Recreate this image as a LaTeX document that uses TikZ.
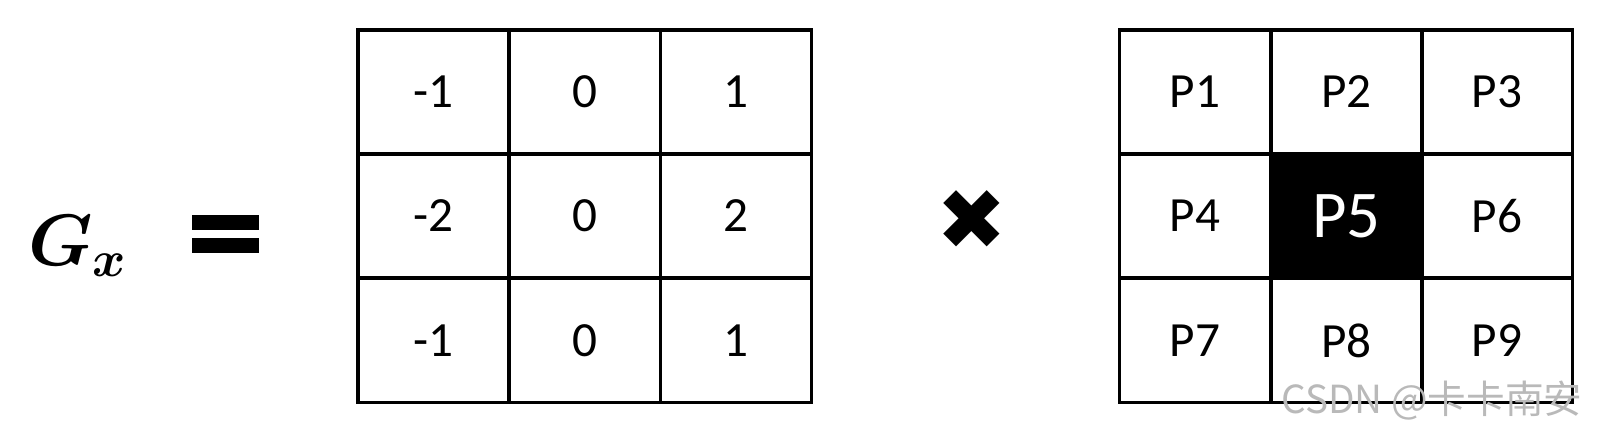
\documentclass[tikz,border=0pt]{standalone}
\usepackage{fontspec}
\usepackage{amsmath,bm}
\newfontfamily\carlito{Carlito}
\newfontfamily\dejavu{DejaVu Sans}
\newfontfamily\cjk{Noto Sans CJK SC}
\tikzset{
  celda/.style={draw, line width=0.9pt, minimum width=1.51cm, minimum height=1.24cm,
    inner sep=0pt, font=\carlito\fontsize{14}{16}\selectfont},
  pixel/.style={celda},
  centro/.style={pixel, fill=black, text=white, font=\carlito\fontsize{19}{21}\selectfont}
}
\begin{document}
\begin{tikzpicture}
    \useasboundingbox (0,0) rectangle (15.99,4.30);

    % Dibuja el operador G_x y el signo igual
    \node (gx) at (0.78,1.84) {\fontsize{22}{26}\selectfont$\bm{G}_{\bm{x}}$};
    \fill (1.92,2.15) rectangle (2.59,2.00);
    \fill (1.92,1.92) rectangle (2.59,1.77);

    % Dibuja el kernel de Sobel
    \node[celda] (k11) at (4.335,3.38) {-1};
    \node[celda] (k12) at (5.85,3.38) {0};
    \node[celda] (k13) at (7.36,3.38) {1};
    \node[celda] (k21) at (4.335,2.14) {-2};
    \node[celda] (k22) at (5.85,2.14) {0};
    \node[celda] (k23) at (7.36,2.14) {2};
    \node[celda] (k31) at (4.335,0.895) {-1};
    \node[celda] (k32) at (5.85,0.895) {0};
    \node[celda] (k33) at (7.36,0.895) {1};

    % Dibuja el signo por
    \node (por) at (9.72,2.10) {\dejavu\fontsize{24}{26}\selectfont ✖};

    % Dibuja la vecindad de pixeles
    \node[pixel] (p1) at (11.95,3.38) {P1};
    \node[pixel] (p2) at (13.465,3.38) {P2};
    \node[pixel] (p3) at (14.97,3.38) {P3};
    \node[pixel] (p4) at (11.95,2.14) {P4};
    \node[centro] (p5) at (13.465,2.14) {P5};
    \node[pixel] (p6) at (14.97,2.14) {P6};
    \node[pixel] (p7) at (11.95,0.895) {P7};
    \node[pixel] (p8) at (13.465,0.895) {P8};
    \node[pixel] (p9) at (14.97,0.895) {P9};

    % Marca de agua
    \node[text=gray!55, font=\cjk\fontsize{11}{13}\selectfont] (marca) at (14.32,0.29) {CSDN @卡卡南安};
\end{tikzpicture}
\end{document}
